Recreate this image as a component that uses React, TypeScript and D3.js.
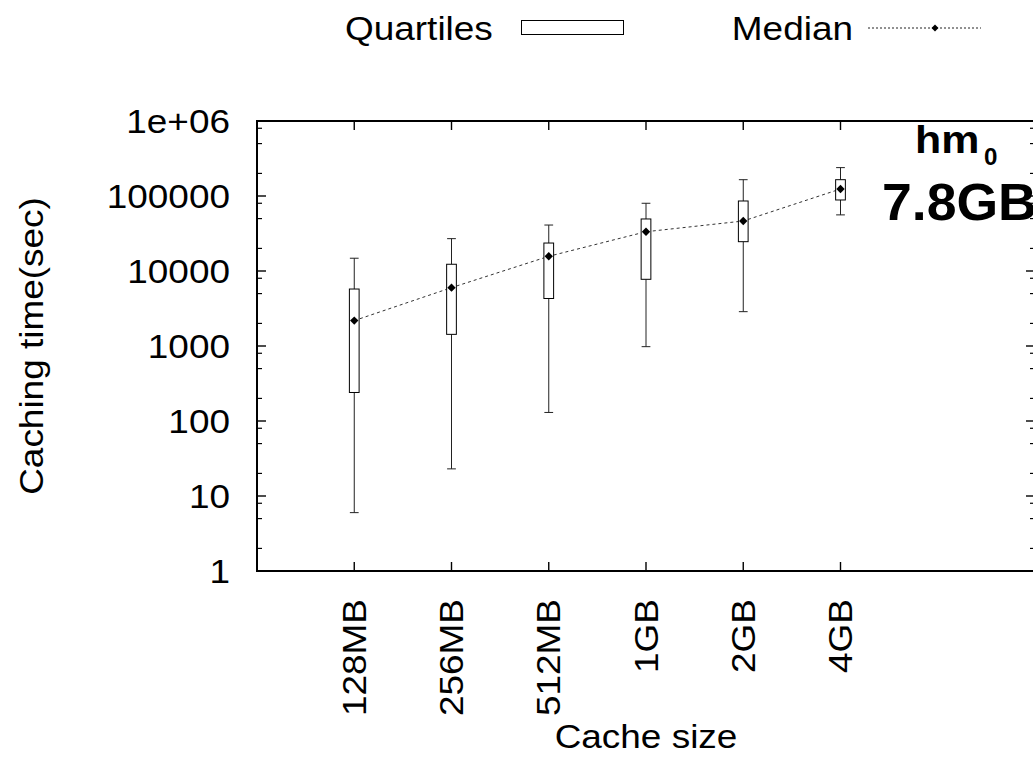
import React from "react";
import * as d3 from "d3";

const categories = ["128MB", "256MB", "512MB", "1GB", "2GB", "4GB"];
const whiskerLow = [6, 23, 130, 980, 2870, 56000];
const q1 = [240, 1430, 4300, 7750, 24600, 88500];
const median = [2180, 6000, 15700, 33400, 46400, 124000];
const q3 = [5750, 12300, 23600, 49400, 85800, 165000];
const whiskerHigh = [14800, 27000, 41000, 80000, 165000, 239000];
const yTickValues = [1, 10, 100, 1000, 10000, 100000, 1000000];
const yTickLabels = ["1", "10", "100", "1000", "10000", "100000", "1e+06"];

const W = 1033;
const H = 760;
const L = 257, R = 1035, T = 121, B = 571;
const FONT = "'Liberation Sans', Arial, Helvetica, sans-serif";

const x = d3.scaleLinear().domain([0, 8]).range([L, R]);
const y = d3.scaleLog().domain([1, 1e6]).range([B, T]);

function Txt(props: any) {
  const { x: tx, y: ty, rot = 0, sx = 1.12, size = 33, anchor = "start", weight = "normal", children } = props;
  return (
    <text
      transform={`translate(${tx},${ty}) rotate(${rot}) scale(${sx},1)`}
      fontSize={size}
      fontFamily={FONT}
      fontWeight={weight}
      textAnchor={anchor}
      fill="#000"
    >
      {children}
    </text>
  );
}

export default function App() {
  const minor: number[] = [];
  for (let e = 0; e < 6; e++) {
    [2, 5, 8].forEach((m) => minor.push(m * Math.pow(10, e)));
  }
  const bw = x(0.05) - x(0);
  const capW = x(0.045) - x(0);
  const medLine = d3
    .line<number>()
    .x((_, i) => x(i + 1))
    .y((d) => y(d))(median);
  const diamond = (cx: number, cy: number, r = 4.2) =>
    `M${cx},${cy - r}L${cx + r},${cy}L${cx},${cy + r}L${cx - r},${cy}Z`;

  return (
    <svg width={W} height={H} style={{ position: "absolute", left: 0, top: 0, background: "#fff" }}>
      <rect x={0} y={0} width={W} height={H} fill="#fff" />
      {/* legend */}
      <Txt x={345} y={40}>Quartiles</Txt>
      <rect x={521.5} y={20.5} width={102} height={14} fill="#fff" stroke="#000" strokeWidth={1} />
      <Txt x={853} y={40} anchor="end">Median</Txt>
      <line x1={868} x2={981} y1={28} y2={28} stroke="#222" strokeWidth={1} strokeDasharray="2,2" />
      <path d={diamond(935, 28, 3.5)} fill="#000" />

      {/* minor y ticks */}
      {minor.map((v) => (
        <g key={"m" + v}>
          <line x1={L} x2={L + 5} y1={y(v)} y2={y(v)} stroke="#000" strokeWidth={1.2} />
          <line x1={R} x2={R - 5} y1={y(v)} y2={y(v)} stroke="#000" strokeWidth={1.2} />
        </g>
      ))}
      {/* major y ticks */}
      {yTickValues.map((v, i) => (
        <g key={"y" + v}>
          <line x1={L} x2={L + 9} y1={y(v)} y2={y(v)} stroke="#000" strokeWidth={1.4} />
          <line x1={R} x2={R - 9} y1={y(v)} y2={y(v)} stroke="#000" strokeWidth={1.4} />
          <Txt x={230} y={y(v) + 11.8} anchor="end">{yTickLabels[i]}</Txt>
        </g>
      ))}
      {/* x ticks */}
      {categories.map((c, i) => (
        <g key={c}>
          <line x1={x(i + 1)} x2={x(i + 1)} y1={B} y2={B - 9} stroke="#000" strokeWidth={1.4} />
          <line x1={x(i + 1)} x2={x(i + 1)} y1={T} y2={T + 9} stroke="#000" strokeWidth={1.4} />
          <Txt x={x(i + 1) + 11.5} y={599} rot={-90} anchor="end">{c}</Txt>
        </g>
      ))}

      {/* frame */}
      <rect x={L} y={T} width={R - L} height={B - T} fill="none" stroke="#000" strokeWidth={2} />

      {/* median line */}
      <path d={medLine || ""} fill="none" stroke="#333" strokeWidth={1} strokeDasharray="3,3" />

      {/* boxes */}
      {categories.map((c, i) => {
        const cx = x(i + 1);
        return (
          <g key={"b" + c}>
            <line x1={cx} x2={cx} y1={y(whiskerLow[i])} y2={y(q1[i])} stroke="#222" strokeWidth={1} />
            <line x1={cx} x2={cx} y1={y(q3[i])} y2={y(whiskerHigh[i])} stroke="#222" strokeWidth={1} />
            <line x1={cx - capW} x2={cx + capW} y1={y(whiskerLow[i])} y2={y(whiskerLow[i])} stroke="#222" strokeWidth={1} />
            <line x1={cx - capW} x2={cx + capW} y1={y(whiskerHigh[i])} y2={y(whiskerHigh[i])} stroke="#222" strokeWidth={1} />
            <rect x={cx - bw} y={y(q3[i])} width={2 * bw} height={y(q1[i]) - y(q3[i])} fill="#fff" stroke="#000" strokeWidth={1} />
          </g>
        );
      })}
      {median.map((m, i) => (
        <path key={"d" + i} d={diamond(x(i + 1), y(m))} fill="#000" />
      ))}

      {/* annotation */}
      <Txt x={915} y={153} size={39} sx={1.1} weight="bold">hm</Txt>
      <Txt x={984} y={165} size={23} sx={1.05} weight="bold">0</Txt>
      <Txt x={882} y={220} size={52} sx={1.03} weight="bold">7.8GB</Txt>

      {/* axis titles */}
      <Txt x={43} y={346} rot={-90} anchor="middle">Caching time(sec)</Txt>
      <Txt x={646} y={748} anchor="middle">Cache size</Txt>
    </svg>
  );
}
